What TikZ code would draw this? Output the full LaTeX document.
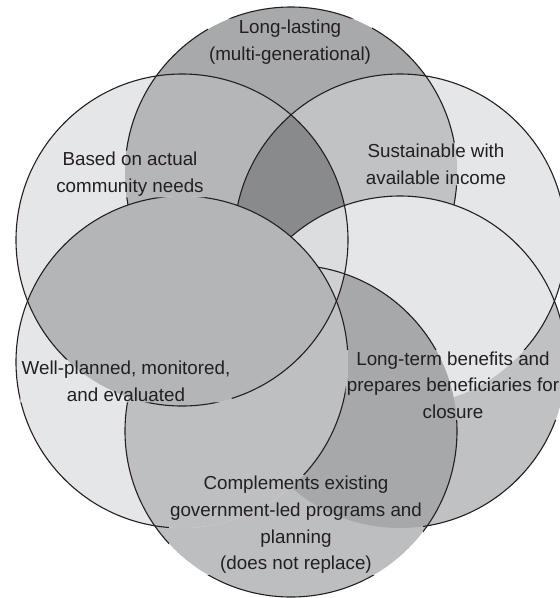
\documentclass[tikz,border=0pt]{standalone}
\usepackage{fontspec}
\setmainfont{Liberation Sans}
\pgfdeclarelayer{fg}
\pgfsetlayers{main,fg}
\definecolor{colL}{HTML}{E5E6E8}
\definecolor{colA}{HTML}{A8A9AB}
\definecolor{colAB}{HTML}{B5B6B8}
\definecolor{colAD}{HTML}{C1C2C4}
\definecolor{colABD}{HTML}{898A8C}
\definecolor{colE}{HTML}{C0C1C3}
\definecolor{colBE}{HTML}{DCDDDF}
\definecolor{colF}{HTML}{BDBEC0}
\definecolor{colEF}{HTML}{A7A8AA}
\definecolor{colBEF}{HTML}{CFD0D2}
\definecolor{colCF}{HTML}{BEBFC1}
\definecolor{colBC}{HTML}{B4B5B7}
\definecolor{ink}{HTML}{231F20}
\newcommand\koclip{\clip (-50,-50) rectangle (700,700)
  (t1.south west) rectangle (t1.north east)
  (t2.south west) rectangle (t2.north east)
  (t3.south west) rectangle (t3.north east)
  (t4.south west) rectangle (t4.north east)
  (t5.south west) rectangle (t5.north east)
  (t6.south west) rectangle (t6.north east);}
\begin{document}
\begin{tikzpicture}[x=1pt,y=-1pt,
  ol/.style={draw=ink,line width=1.1pt},
  lbl/.style={font=\fontsize{18.8}{26.7}\selectfont, text=ink, align=center, inner sep=1pt},
  rr/.style={radius=166pt}]
\useasboundingbox (0,0) rectangle (560,598);
\fill[white] (0,0) rectangle (560,598);
\coordinate (cA) at (291,173);
\coordinate (cB) at (182,240);
\coordinate (cD) at (400,240);
\coordinate (cC) at (182,362);
\coordinate (cE) at (400,362);
\coordinate (cF) at (291,431);
\begin{pgfonlayer}{fg}
\node[lbl] (t1) at (290,42) {Long-lasting\\(multi-generational)};
\node[lbl] (t2) at (130,174) {Based on actual\\community needs};
\node[lbl] (t3) at (436,164) {Sustainable with\\available income};
\node[lbl] (t4) at (126,381) {Well-planned, monitored,\\and evaluated};
\node[lbl] (t5) at (453,385) {Long-term benefits and\\prepares beneficiaries for\\closure};
\node[lbl] (t6) at (296,525) {Complements existing\\government-led programs and\\planning\\(does not replace)};
\end{pgfonlayer}
\begin{scope}
\clip (0,0) rectangle (560,598);
% top three circles
\fill[colL] (cB) circle[rr];
\fill[colL] (cD) circle[rr];
\fill[colA] (cA) circle[rr];
\begin{scope}
  \clip (cA) circle[rr];
  \fill[colAB] (cB) circle[rr];
  \fill[colAD] (cD) circle[rr];
  \clip (cB) circle[rr];
  \fill[colABD] (cD) circle[rr];
\end{scope}
\begin{scope}[even odd rule]\koclip \draw[ol] (cA) circle[rr];\end{scope}
% lower right circle
\fill[colE] (cE) circle[rr];
\begin{scope}
  \clip (cE) circle[rr];
  \fill[colL] (cD) circle[rr];
  \fill[colBE] (cB) circle[rr];
\end{scope}
\begin{scope}[even odd rule]\koclip \draw[ol] (cD) circle[rr];\end{scope}
% bottom circle
\fill[colF] (cF) circle[rr];
\begin{scope}
  \clip (cF) circle[rr];
  \fill[colEF] (cE) circle[rr];
  \clip (cE) circle[rr];
  \fill[colBEF] (cB) circle[rr];
\end{scope}
\begin{scope}[even odd rule]\koclip \draw[ol] (cE) circle[rr];\end{scope}
% lower left circle
\fill[colL] (cC) circle[rr];
\begin{scope}
  \clip (cC) circle[rr];
  \fill[colCF] (cF) circle[rr];
\end{scope}
\begin{scope}[even odd rule]\koclip \draw[ol] (cF) circle[rr];\end{scope}
\begin{scope}
  \clip (cC) circle[rr];
  \fill[colBC] (cB) circle[rr];
\end{scope}
\begin{scope}[even odd rule]\koclip
  \draw[ol] (cB) circle[rr];
  \draw[ol] (cC) circle[rr];
\end{scope}
\end{scope}
\end{tikzpicture}
\end{document}
